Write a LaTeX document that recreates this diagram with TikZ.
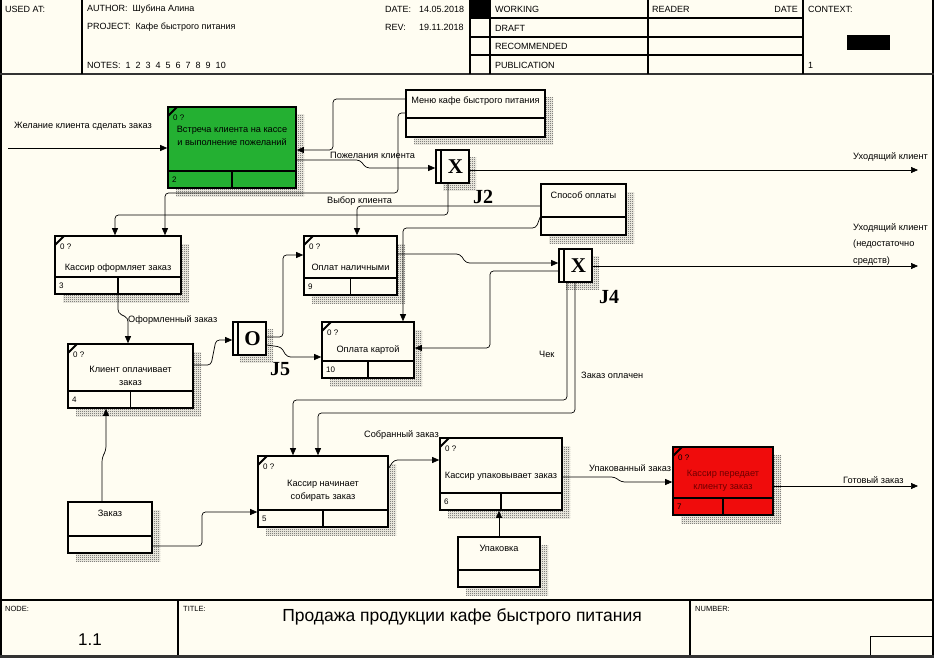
\documentclass[tikz,border=0pt]{standalone}
\usepackage{fontspec}
\setmainfont{Liberation Sans}
\newfontfamily\serifb{Liberation Serif}
\usetikzlibrary{patterns,fit,arrows.meta}
\definecolor{bg}{RGB}{255,253,242}
\definecolor{uowgreen}{RGB}{36,176,50}
\definecolor{uowred}{RGB}{240,12,12}
\definecolor{darkred}{RGB}{110,0,0}
\pgfdeclarepatternformonly{checker}{\pgfpointorigin}{\pgfpoint{2pt}{2pt}}{\pgfpoint{2pt}{2pt}}{%
  \pgfpathrectangle{\pgfpointorigin}{\pgfpoint{1pt}{1pt}}%
  \pgfpathrectangle{\pgfpoint{1pt}{1pt}}{\pgfpoint{1pt}{1pt}}%
  \pgfusepath{fill}}
\tikzset{
  uowbox/.style={draw=black, line width=1.6pt, inner sep=0pt},
  boxline/.style={draw=black, line width=1.6pt},
  shadowpat/.style={pattern=checker, pattern color=black!75},
  conn/.style={draw=black, line width=0.7pt, rounded corners=3.5pt, -{Triangle[length=7pt,width=6pt]}},
  lbl/.style={font=\fontsize{9.2}{10}\selectfont, inner sep=0pt},
  boxtext/.style={font=\fontsize{9.2}{12.5}\selectfont, inner sep=0pt, align=center},
  small/.style={font=\fontsize{8}{9}\selectfont, inner sep=0pt},
  hdr/.style={font=\fontsize{9}{10}\selectfont, inner sep=0pt, anchor=west},
  jsym/.style={font=\serifb\bfseries\fontsize{21}{21}\selectfont, inner sep=0pt},
  jlab/.style={font=\serifb\bfseries\fontsize{20}{20}\selectfont, inner sep=0pt},
}
% UOW box: [fill]{name}{x1}{y1}{x2}{y2}{text y}{number}{text}
\newcommand\uow[9][bg]{%
  \fill[shadowpat] (#3+8,#4+8) rectangle (#5+8,#6+8);
  \node[uowbox, fill=#1, fit={(#3,#4) (#5,#6)}] (#2) {};
  \draw[boxline] (#3,#6-17) -- (#5,#6-17);
  \draw[boxline] ({(#3+#5)/2},#6-17) -- ({(#3+#5)/2},#6);
  \draw[line width=2pt] (#3,#4+9) -- (#3+9,#4);
  \node[small, anchor=west] (#2-q) at (#3+5,#4+11) {0 ?};
  \node[small, anchor=west] (#2-n) at (#3+4,#6-8) {#8};
  \node[boxtext] (#2-t) at ({(#3+#5)/2},#7) {#9};
}
% referent box: {name}{x1}{y1}{x2}{y2}{divider y}{text}
\newcommand\refbox[7]{%
  \fill[shadowpat] (#2+8,#3+8) rectangle (#4+8,#5+8);
  \node[uowbox, fill=bg, fit={(#2,#3) (#4,#5)}] (#1) {};
  \draw[boxline] (#2,#6) -- (#4,#6);
  \node[boxtext] (#1-t) at ({(#2+#4)/2},#3+11) {#7};
}
% junction: {name}{x1}{y1}{symbol}
\newcommand\junc[4]{%
  \fill[shadowpat] (#2+7,#3+7) rectangle (#2+40,#3+40);
  \node[uowbox, fill=bg, fit={(#2,#3) (#2+33,#3+33)}] (#1) {};
  \draw[line width=1.4pt] (#2+5,#3) -- (#2+5,#3+33);
  \node[jsym] (#1-s) at (#2+19.5,#3+17) {#4};
}
\begin{document}
\begin{tikzpicture}[x=1pt,y=-1pt]
\useasboundingbox (0,0) rectangle (934,658);
\fill[bg] (0,0) rectangle (934,658);

% ---------- header ----------
\draw[line width=1.2pt] (1,0) -- (1,658);
\draw[line width=1.2pt] (933,0) -- (933,658);
\draw[line width=2pt, black!80] (0,74) -- (934,74);
\foreach \xx in {82,470,490,648,803} \draw[line width=1.2pt] (\xx,0) -- (\xx,74);
\foreach \yy in {18,37,55} \draw[line width=1.2pt] (470,\yy) -- (803,\yy);
\fill[black] (470,0) rectangle (490,18);
\fill[black] (847,35) rectangle (890,50);
\node[hdr] (usedat) at (5,9) {USED AT:};
\node[hdr] (author) at (87,9) {AUTHOR:\ \ Шубина Алина};
\node[hdr] (project) at (87,27) {PROJECT:\ \ Кафе быстрого питания};
\node[hdr] (notes) at (87,65) {NOTES:\ \ 1\ \ 2\ \ 3\ \ 4\ \ 5\ \ 6\ \ 7\ \ 8\ \ 9\ \ 10};
\node[hdr] (date) at (385,9) {DATE:};
\node[hdr] (dateval) at (419,9) {14.05.2018};
\node[hdr] (rev) at (385,27) {REV:};
\node[hdr] (revval) at (419,27) {19.11.2018};
\node[hdr] (working) at (495,9) {WORKING};
\node[hdr] (draft) at (495,28) {DRAFT};
\node[hdr] (recom) at (495,46) {RECOMMENDED};
\node[hdr] (publ) at (495,65) {PUBLICATION};
\node[hdr] (reader) at (652,9) {READER};
\node[hdr, anchor=east] (rdate) at (798,9) {DATE};
\node[hdr] (context) at (808,9) {CONTEXT:};
\node[hdr] (ctxnum) at (808,65) {1};

% ---------- footer ----------
\draw[line width=1.4pt] (0,600) -- (934,600);
\draw[line width=1.2pt] (178,600) -- (178,656);
\draw[line width=1.2pt] (690,600) -- (690,656);
\draw[line width=1pt] (870,658) -- (870,636) -- (934,636);
\draw[line width=2.4pt, black!80] (0,656.5) -- (934,656.5);
\node[hdr, font=\fontsize{7.5}{8}\selectfont] (nodel) at (5,609) {NODE:};
\node[inner sep=0pt, font=\fontsize{17}{17}\selectfont] (nodenum) at (90,640) {1.1};
\node[hdr, font=\fontsize{7.5}{8}\selectfont] (titlel) at (183,609) {TITLE:};
\node[inner sep=0pt, font=\fontsize{17.5}{17.5}\selectfont] (title) at (462,617) {Продажа продукции кафе быстрого питания};
\node[hdr, font=\fontsize{7.5}{8}\selectfont] (numberl) at (695,609) {NUMBER:};

% ---------- boxes ----------
\uow[uowgreen]{b2}{168}{107}{296}{188}{136}{2}{Встреча клиента на кассе\\и выполнение пожеланий}
\uow{b3}{55}{236}{181}{294}{268}{3}{Кассир оформляет заказ}
\uow{b9}{304}{236}{397}{295}{267}{9}{Оплат наличными}
\uow{b10}{322}{322}{414}{378}{350}{10}{Оплата картой}
\uow{b4}{68}{344}{193}{408}{376}{4}{Клиент оплачивает\\заказ}
\uow{b5}{258}{456}{388}{527}{491}{5}{Кассир начинает\\собирать заказ}
\uow{b6}{440}{438}{562}{510}{476}{6}{Кассир упаковывает заказ}
\uow[uowred]{b7}{673}{447}{773}{515}{481}{7}{\color{darkred}Кассир передает\\\color{darkred}клиенту заказ}

\refbox{menu}{406}{90}{545}{137}{118}{Меню кафе быстрого питания}
\refbox{pay}{541}{184}{626}{235}{217}{Способ оплаты}
\refbox{zakaz}{68}{502}{152}{553}{536}{Заказ}
\refbox{upak}{458}{537}{540}{587}{570}{Упаковка}

\junc{j2}{436}{150}{X}
\junc{j4}{559}{249}{X}
\junc{j5}{233}{322}{O}
\node[jlab] (j2l) at (483,197) {J2};
\node[jlab] (j4l) at (609,297) {J4};
\node[jlab] (j5l) at (280,369) {J5};

% ---------- connectors ----------
\coordinate (ext1) at (8,148);
\draw[conn] (ext1) -- (b2.west |- ext1);
\node[lbl, anchor=west] (lA) at (14,126) {Желание клиента сделать заказ};

\draw[conn] (menu.west |- 0,99) -| (333,150) -- (b2.east |- 0,150);
\draw[conn] (menu.west |- 0,113) -- (398,113) -- (398,193) -- (165,193) -- (b3.north -| 165,0);

\draw[conn] (b2.east |- 0,160) -- (360,160) -- (366,168) -- (j2.west |- 0,168);
\node[lbl, anchor=west] (lD) at (330,155) {Пожелания клиента};

\draw[conn] (j2.east |- 0,170) -- (918,170);
\node[lbl, anchor=west] (lE) at (853,157) {Уходящий клиент};

\draw[conn] (j2.south -| 448,0) -- (448,215) -- (115,215) -- (b3.north -| 115,0);

\draw[conn] (pay.west |- 0,206) -- (357,206) -- (b9.north -| 357,0);
\node[lbl, anchor=west] (lG) at (327,201) {Выбор клиента};

\draw[conn] (pay.west |- 0,217) -- (536,228) -- (403,228) -- (b10.north -| 403,0);

\draw[conn] (b3.south -| 118,0) -- (118,313) -- (128,318) -- (b4.north -| 128,0);
\node[lbl, anchor=west] (lI) at (128,320) {Оформленный заказ};

\draw[conn] (b4.east |- 0,365) -- (211,365) -- (216,340) -- (j5.west |- 0,340);
\draw[conn] (j5.east |- 0,337) -- (283,337) -- (283,255) -- (b9.west |- 0,255);
\draw[conn] (j5.east |- 0,345) -- (281,347) -- (287,357) -- (b10.west |- 0,357);

\draw[conn] (b9.east |- 0,254) -- (460,254) -- (466,263) -- (j4.west |- 0,263);
\draw[conn] (j4.west |- 0,271) -- (490,271) -- (490,348) -- (b10.east |- 0,348);
\node[lbl, anchor=west] (lN) at (539,354) {Чек};

\draw[conn] (j4.east |- 0,266) -- (918,266);
\node[lbl, anchor=north west, align=left, font=\fontsize{9.2}{16.5}\selectfont] (lO) at (853,223) {Уходящий клиент\\(недостаточно\\средств)};

\draw[conn] (j4.south -| 567,0) -- (567,400) -- (293,400) -- (b5.north -| 293,0);
\draw[conn] (j4.south -| 575,0) -- (575,413) -- (318,413) -- (b5.north -| 318,0);
\node[lbl, anchor=west] (lQ) at (581,375) {Заказ оплачен};

\draw[conn] (zakaz.north -| 102,0) -- (102,458) -- (106,450) -- (b4.south -| 106,0);
\draw[conn] (zakaz.east |- 0,546) -- (202,546) -- (202,512) -- (b5.west |- 0,512);

\draw[conn] (b5.east |- 0,468) -- (394,460) -- (b6.west |- 0,460);
\node[lbl, anchor=west] (lT) at (364,435) {Собранный заказ};

\draw[conn] (b6.east |- 0,477) -- (615,477) -- (621,482) -- (b7.west |- 0,482);
\node[lbl, anchor=west] (lU) at (589,468) {Упакованный заказ};

\draw[conn] (upak.north -| 499,0) -- (b6.south -| 499,0);

\draw[conn] (b7.east |- 0,486) -- (918,486);
\node[lbl, anchor=west] (lW) at (843,480) {Готовый заказ};
\end{tikzpicture}
\end{document}
